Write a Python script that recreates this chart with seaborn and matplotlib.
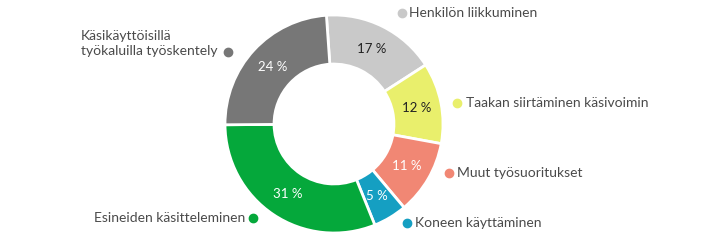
import matplotlib
matplotlib.use("Agg")
import matplotlib.pyplot as plt
import seaborn as sns

# Data
categories = ["Henkilön liikkuminen", "Taakan siirtäminen käsivoimin", "Muut työsuoritukset",
              "Koneen käyttäminen", "Esineiden käsitteleminen",
              "Käsikäyttöisillä\ntyökaluilla työskentely"]
values = [17, 12, 11, 5, 31, 24]
colors = ["#c9c9c9", "#e9ef6c", "#f18774", "#159fc2", "#05a83b", "#777777"]
pct_text_colors = ["#222222", "#222222", "white", "white", "white", "white"]

sns.set_theme(style="white")
plt.rcParams['font.family'] = ['Lato', 'DejaVu Sans']
palette = sns.color_palette(colors)

W, H = 720, 241
fig = plt.figure(figsize=(W / 100, H / 100), dpi=100)

# donut axes: center (334,124), radius 109 px
cx, cy, r = 334, 124, 109
ax = fig.add_axes([(cx - r) / W, (H - (cy + r)) / H, 2 * r / W, 2 * r / H])
wedges, texts, autotexts = ax.pie(
    values, colors=palette, startangle=94, counterclock=False,
    radius=1.0, wedgeprops=dict(width=0.45, edgecolor="white", linewidth=2),
    autopct=lambda p: f"{round(p)} %", pctdistance=0.77,
    textprops=dict(fontsize=9.5))
for t, c in zip(autotexts, pct_text_colors):
    t.set_color(c)
ax.set_xlim(-1, 1)
ax.set_ylim(-1, 1)
ax.set_aspect("equal")
ax.axis("off")

# overlay axes in pixel coords for outside labels
ov = fig.add_axes([0, 0, 1, 1], zorder=5)
ov.set_xlim(0, W)
ov.set_ylim(H, 0)
ov.axis("off")
ov.patch.set_alpha(0)

txt_color = "#4a4a4a"
fs = 10
# (dot x, dot y, text x, text y, ha)
label_pos = [
    (401.5, 13, 409, 13, "left"),
    (457, 103, 466, 103, "left"),
    (448.5, 173, 457, 173, "left"),
    (406.5, 223, 415, 223, "left"),
    (253, 218, 245, 218, "right"),
    (228, 52, 81, 43.5, "left"),
]
for (dx, dy, tx, ty, ha), lab, col in zip(label_pos, categories, colors):
    ov.plot([dx], [dy], marker="o", markersize=6, color=col, linestyle="none")
    ov.text(tx, ty, lab, ha=ha, va="center", fontsize=fs, color=txt_color,
            linespacing=1.25)

fig.savefig("out.png", dpi=100)
